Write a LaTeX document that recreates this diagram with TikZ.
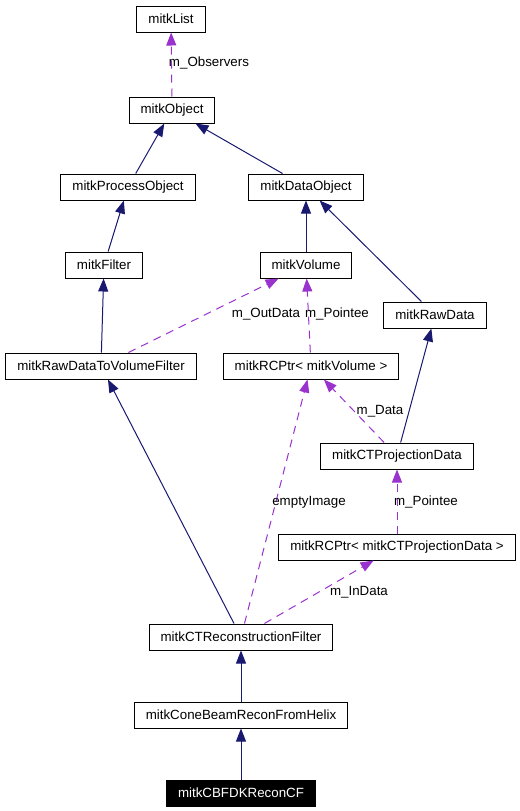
\documentclass[tikz,border=0pt]{standalone}
\usepackage{fontspec}
\setmainfont{Liberation Sans}
\usetikzlibrary{shapes,arrows.meta}
\definecolor{navyedge}{RGB}{25,25,112}
\definecolor{orchidedge}{RGB}{154,50,205}
\tikzset{%
  cls/.style    = {draw, rectangle, line width=0.75pt, minimum height=19.5pt,
    inner xsep=8.6pt, inner ysep=0pt, font=\fontsize{10}{12}\selectfont}, % Class
  self/.style   = {cls, fill=black, text=white}, % Documented class
  inh/.style    = {navyedge, line width=0.75pt, ->}, % Inheritance
  use/.style    = {orchidedge, line width=0.75pt, dash pattern=on 6pt off 4.5pt, ->}, % Usage
  lbl/.style    = {inner sep=0pt, font=\fontsize{10}{12}\selectfont} % Member name
}

\begin{document}
\begin{tikzpicture}[x=0.75pt, y=-0.75pt, >={Triangle[length=9.75pt, width=7.5pt]}]
\useasboundingbox (0,0) rectangle (520,811);
\draw
	% Base classes :
	node at (171,19) [cls] (list) {mitkList}
	node at (172,110) [cls] (obj) {mitkObject}
	node at (128,187) [cls] (proc) {mitkProcessObject}
	node at (306,187) [cls] (dobj) {mitkDataObject}
	node at (104,265) [cls] (filt) {mitkFilter}
	node at (306,265) [cls] (vol) {mitkVolume}
	node at (435,315) [cls] (raw) {mitkRawData}
	% Middle row :
	node at (101,366) [cls] (r2v) {mitkRawDataToVolumeFilter}
	node at (311,366) [cls] (rcvol) {mitkRCPtr< mitkVolume >}
	node at (397,456) [cls] (ctpd) {mitkCTProjectionData}
	node at (397,547) [cls] (rcct) {mitkRCPtr< mitkCTProjectionData >}
	% Reconstruction chain :
	node at (241,637) [cls] (ctrf) {mitkCTReconstructionFilter}
	node at (241,715) [cls] (cone) {mitkConeBeamReconFromHelix}
	node at (241,793) [self] (cbfdk) {mitkCBFDKReconCF};
	% Inheritance
	\draw[inh] (proc) -- (obj);
	\draw[inh] (dobj) -- (obj);
	\draw[inh] (filt) -- (proc);
	\draw[inh] (vol) -- (dobj);
	\draw[inh] (raw) -- (dobj);
	\draw[inh] (r2v) -- (filt);
	\draw[inh] (ctpd) -- (raw);
	\draw[inh] (ctrf) -- (r2v);
	\draw[inh] (cone) -- (ctrf);
	\draw[inh] (cbfdk) -- (cone);
	% Usage
	\draw[use] (obj) -- (list);
	\draw[use] (r2v) -- (vol);
	\draw[use] (rcvol) -- (vol);
	\draw[use] (ctpd) -- (rcvol);
	\draw[use] (rcct) -- (ctpd);
	\draw[use] (ctrf) -- (rcvol);
	\draw[use] (ctrf) -- (rcct);
	% Member names
\draw
	node at (209,63) [lbl] (lobs) {m\_Observers}
	node at (266,314) [lbl] (lout) {m\_OutData}
	node at (337,314) [lbl] (lptv) {m\_Pointee}
	node at (380,411) [lbl] (ldat) {m\_Data}
	node at (309,502) [lbl] (lemp) {emptyImage}
	node at (426,502) [lbl] (lptc) {m\_Pointee}
	node at (359,592) [lbl] (lin) {m\_InData};
\end{tikzpicture}
\end{document}
